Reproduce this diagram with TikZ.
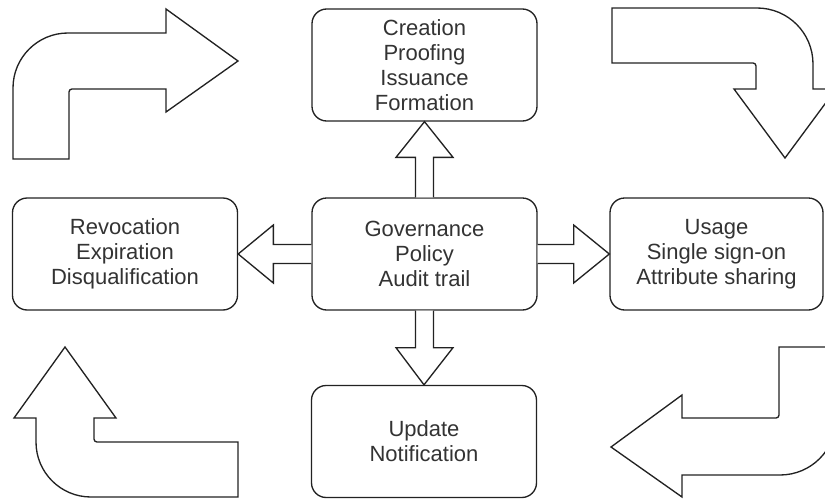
\documentclass[tikz,border=0pt]{standalone}
\usepackage{fontspec}
\setmainfont{Liberation Sans}
\usetikzlibrary{calc}
\definecolor{edge}{RGB}{34,34,34}
\definecolor{ink}{RGB}{51,51,51}
\begin{document}
\begin{tikzpicture}[x=0.75pt,y=-0.75pt,
  stage/.style={draw=edge, line width=1pt, rounded corners=11pt, fill=white,
    align=center, inner sep=0pt, minimum width=168.75pt, minimum height=84pt,
    text=ink, font=\fontsize{16.5}{18.75}\selectfont},
  blk/.style={draw=edge, line width=1pt, fill=white, line join=miter}]
\useasboundingbox (0,0) rectangle (825,500);
\clip (0,0) rectangle (825,500);

% life-cycle stages
\node[stage] (t) at (424.5,65) {Creation\\Proofing\\Issuance\\Formation};
\node[stage] (c) at (424.5,254) {Governance\\Policy\\Audit trail};
\node[stage] (b) at (424,441.5) {Update\\Notification};
\node[stage] (l) at (125,254) {Revocation\\Expiration\\Disqualification};
\node[stage, minimum width=159.75pt] (r) at (716.5,254) {Usage\\Single sign-on\\Attribute sharing};

% block arrows from the governance hub
\draw[blk] ($(c.north)+(-9,0)$) -- ++(0,-40) -- ++(-19.5,0) -- (t.south)
  -- ($(c.north)+(28.5,-40)$) -- ++(-19.5,0) -- ++(0,40);
\draw[blk] ($(c.south)+(-9,0)$) -- ++(0,37) -- ++(-19.5,0) -- (b.north)
  -- ($(c.south)+(28.5,37)$) -- ++(-19.5,0) -- ++(0,-37);
\draw[blk] ($(c.west)+(0,-9.5)$) -- ++(-38,0) -- ++(0,-19.5) -- (l.east)
  -- ($(c.west)+(-38,29)$) -- ++(0,-19.5) -- ++(38,0);
\draw[blk] ($(c.east)+(0,-9.5)$) -- ++(36,0) -- ++(0,-19.5) -- (r.west)
  -- ($(c.east)+(36,29)$) -- ++(0,-19.5) -- ++(-36,0);

% bent arrows in the corners
\draw[blk] (13,159) -- (13,88) .. controls (13,57.6) and (37.6,33) .. (68,33)
  -- (166,33) -- (166,9) -- (238,61) -- (166,112) -- (166,89) -- (72,89)
  .. controls (70.3,89) and (69,90.3) .. (69,92) -- (69,159) -- cycle;
\draw[blk] (612,8) -- (757,8) .. controls (788,8) and (813,33) .. (813,64)
  -- (813,89) -- (836,89) -- (785,158) -- (734,89) -- (756,89) -- (756,66)
  .. controls (756,64.3) and (754.7,63) .. (753,63) -- (612,63) -- cycle;
\draw[blk] (65,347) -- (116,418) -- (94,418) -- (94,439)
  .. controls (94,440.7) and (95.3,442) .. (97,442) -- (238,442) -- (238,497)
  -- (91,497) .. controls (60.6,497) and (36,472.4) .. (36,442) -- (36,418)
  -- (14,418) -- cycle;
\draw[blk] (779,347) -- (836,347) -- (836,419) .. controls (836,450) and (811,475) .. (780,475)
  -- (682,475) -- (682,497) -- (611,447) -- (682,395) -- (682,418) -- (776,418)
  .. controls (777.7,418) and (779,416.7) .. (779,415) -- cycle;
\end{tikzpicture}
\end{document}
